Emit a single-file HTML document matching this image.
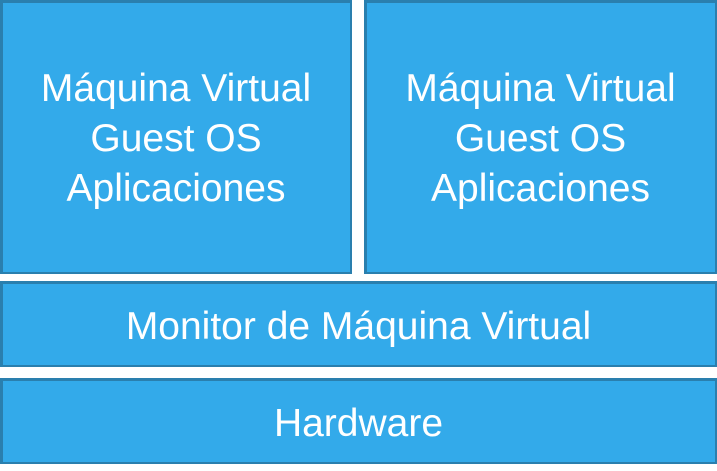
<!DOCTYPE html>
<html><head><meta charset="utf-8"><style>
html,body{margin:0;padding:0;background:#fff;width:717px;height:471px;overflow:hidden;position:relative}
.b{position:absolute;box-sizing:border-box;background:#33aaea;border:3px solid #2a7fae;border-right-width:2px;border-bottom-width:2px}
.t{position:absolute;left:0;right:0;text-align:center;color:#fff;font-family:"Liberation Sans",sans-serif;font-size:39px;line-height:50px;letter-spacing:0;white-space:nowrap}
</style></head><body>
<div class="b" style="left:0;top:0;width:352px;height:274px"></div>
<div class="b" style="left:364px;top:0;width:353px;height:274px"></div>
<div class="b" style="left:0;top:281px;width:717px;height:86px"></div>
<div class="b" style="left:0;top:378px;width:717px;height:86px"></div>
<div class="t" style="left:0;width:352px;right:auto;top:64px">Máquina Virtual<br>Guest OS<br>Aplicaciones</div>
<div class="t" style="left:364px;width:353px;right:auto;top:64px">Máquina Virtual<br>Guest OS<br>Aplicaciones</div>
<div class="t" style="top:302px">Monitor de Máquina Virtual</div>
<div class="t" style="top:399px">Hardware</div>
</body></html>
